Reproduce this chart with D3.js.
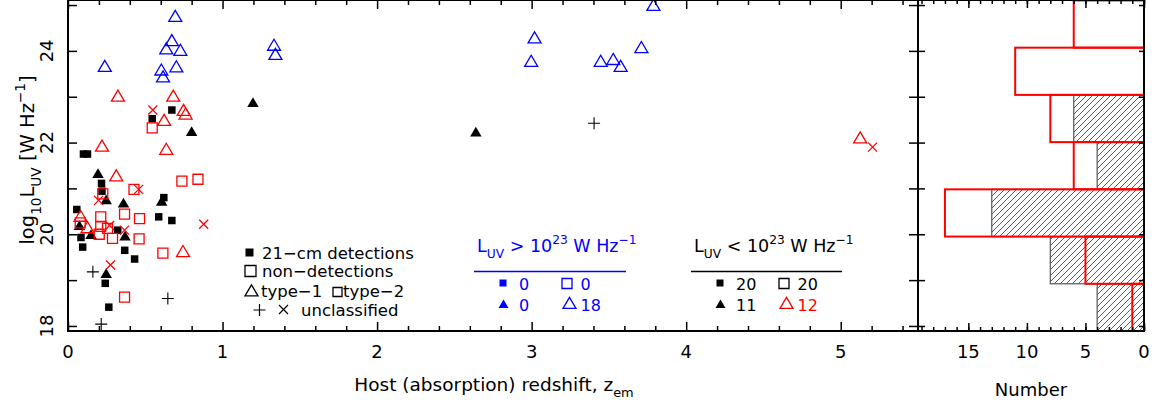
<!DOCTYPE html>
<html>
<head>
<meta charset="utf-8">
<script src="https://cdn.jsdelivr.net/npm/d3@7"></script>
<style>
  body { margin: 0; background: #fff; }
  text { font-family: "DejaVu Sans", sans-serif; }
</style>
</head>
<body>
<div id="chart-area"></div>
<script>
// ---- data: [z_em, log10 L_UV] ----
var detSquares = [[0.672,22.71],[0.545,22.52],[0.100,21.75],[0.126,21.75],[0.217,21.11],[0.220,20.94],
    [0.620,20.80],[0.057,20.54],[0.587,20.38],[0.672,20.30],[0.322,20.09],[0.084,19.93],[0.095,19.72],
    [0.367,19.65],[0.431,19.46],[0.241,18.93],[0.264,18.41]];
var detTriangles = [[1.197,22.86],[2.639,22.22],[0.800,22.23],[0.194,21.31],[0.247,20.74],[0.359,20.67],
    [0.606,20.71],[0.074,20.18],[0.149,19.98],[0.369,19.95],[0.247,19.13]];
var nonSquares = [[0.545,22.32],[0.737,21.16],[0.841,21.20],[0.427,20.98],[0.225,20.88],[0.366,20.44],
    [0.463,20.34],[0.212,20.38],[0.079,20.25],[0.212,20.17],[0.256,20.13],[0.202,20.00],[0.288,19.91],
    [0.460,19.90],[0.614,19.59],[0.366,18.63]];
var nonTriangles = [[0.323,23.00],[0.681,23.00],[0.748,22.69],[0.761,22.61],[0.622,22.47],[0.220,21.91],
    [0.636,21.84],[0.312,21.26],[0.081,20.38],[0.126,20.13],[0.744,19.61],[5.126,22.09]];
var brightTriangles = [[0.694,24.74],[0.672,24.21],[0.636,24.03],[0.727,24.00],[0.701,23.64],[0.604,23.57],
    [0.615,23.42],[0.238,23.65],[1.333,24.11],[1.342,23.91],[3.788,24.98],[3.019,24.27],[2.997,23.76],
    [3.447,23.76],[3.528,23.80],[3.576,23.65],[3.710,24.06]];
var unclCrosses = [[0.549,22.71],[0.198,20.74],[0.457,20.98],[0.269,20.19],[0.366,20.09],[0.878,20.22],
    [0.275,19.33],[5.206,21.90]];
var unclPlus = [[3.404,22.42],[0.161,19.18],[0.646,18.60],[0.215,18.04]];

// histogram (bins in log10 L_UV, counts)
var binEdges = [17.89, 18.92, 19.95, 20.98, 22.01, 23.04, 24.07, 25.10];
var histDetections = [4, 8, 13, 4, 6, 0, 0];
var histNonDetections = [1, 5, 17, 6, 8, 11, 6];

var zTickLabels = [0, 1, 2, 3, 4, 5];
var lTickLabels = [18, 20, 22, 24];
var nTickLabels = [15, 10, 5, 0];
var brightCounts = [0, 0, 0, 18];
var faintCounts = [20, 20, 11, 12];

// ---- setup ----
var W = 1157, H = 405;
var svg = d3.select("#chart-area").append("svg")
    .attr("width", W).attr("height", H);

var x = d3.scaleLinear().domain([0, 5.5]).range([68, 918]);
var y = d3.scaleLinear().domain([17.89, 25.11]).range([331, 0]);
var hx = d3.scaleLinear().domain([0, 19.3]).range([1144, 918]);

var RED = "#ff0000", BLUE = "#0000ff";

// marker paths centred on 0,0
function sqPath(s) { var h = s / 2; return "M" + (-h) + "," + (-h) + "h" + s + "v" + s + "h" + (-s) + "Z"; }
function triPath(s) { var h = s * 0.85; return "M0," + (-h * 0.6) + "L" + (s / 2) + "," + (h * 0.4) + "L" + (-s / 2) + "," + (h * 0.4) + "Z"; }
function plusPath(s) { var h = s / 2; return "M" + (-h) + ",0H" + h + "M0," + (-h) + "V" + h; }
function crossPath(s) { var h = s / 2; return "M" + (-h) + "," + (-h) + "L" + h + "," + h + "M" + (-h) + "," + h + "L" + h + "," + (-h); }

function marker(g, px, py, d, fill, stroke, sw) {
    return g.append("path").attr("d", d)
        .attr("transform", "translate(" + px + "," + py + ")")
        .attr("fill", fill).attr("stroke", stroke).attr("stroke-width", sw || 1.3);
}

// text with sub/superscripts
function rich(t, parts, fs) {
    var shift = 0;
    parts.forEach(function(p) {
        var target = p[1] === "sub" ? fs * 0.35 : (p[1] === "sup" ? -fs * 0.45 : 0);
        t.append("tspan").attr("dy", target - shift)
            .style("font-size", (p[1] ? fs * 0.7 : fs) + "px").text(p[0]);
        shift = target;
    });
    return t;
}

// ---- main panel ----
svg.append("clipPath").attr("id", "clipMain").append("rect")
    .attr("x", 68).attr("y", 0).attr("width", 850).attr("height", 331);
var pts = svg.append("g").attr("clip-path", "url(#clipMain)");

function series(data, d, fill, stroke, sw) {
    pts.append("g").selectAll("path").data(data).enter().append("path")
        .attr("d", d)
        .attr("transform", function(p) { return "translate(" + x(p[0]) + "," + y(p[1]) + ")"; })
        .attr("fill", fill).attr("stroke", stroke).attr("stroke-width", sw);
}
series(detSquares, sqPath(7.5), "#000", "none", 0);
series(detTriangles, triPath(11.5), "#000", "none", 0);
series(nonSquares, sqPath(10), "none", RED, 1.3);
series(nonTriangles, triPath(13), "none", RED, 1.3);
series(unclCrosses, crossPath(9), "none", RED, 1.3);
series(unclPlus, plusPath(12), "none", "#000", 1.1);
series(brightTriangles, triPath(13), "none", BLUE, 1.3);

// ticks (inward)
var zMinor = d3.range(0, 5.5001, 0.2).filter(function(v) { return Math.abs(v - Math.round(v)) > 1e-6; });
function tickAxis(axis, tr) {
    var a = svg.append("g").attr("transform", tr).call(axis);
    a.select(".domain").remove();
    a.selectAll("line").attr("stroke", "#000").attr("stroke-width", 1.5);
    a.selectAll("text").remove();
}
tickAxis(d3.axisBottom(x).tickValues(zTickLabels).tickSize(-9).tickSizeOuter(0), "translate(0,331)");
tickAxis(d3.axisBottom(x).tickValues(zMinor).tickSize(-5).tickSizeOuter(0), "translate(0,331)");
tickAxis(d3.axisTop(x).tickValues(zTickLabels).tickSize(-9).tickSizeOuter(0), "translate(0,0)");
tickAxis(d3.axisTop(x).tickValues(zMinor).tickSize(-5).tickSizeOuter(0), "translate(0,0)");
var lTicks = d3.range(18, 25.01, 1);
tickAxis(d3.axisLeft(y).tickValues(lTicks).tickSize(-9).tickSizeOuter(0), "translate(68,0)");
tickAxis(d3.axisRight(y).tickValues(lTicks).tickSize(-9).tickSizeOuter(0), "translate(918,0)");

// tick labels
svg.append("g").selectAll("text").data(zTickLabels).enter().append("text")
    .attr("x", function(d) { return x(d); }).attr("y", 358)
    .attr("text-anchor", "middle").style("font-size", "18px").text(function(d) { return d; });
svg.append("g").selectAll("text").data(lTickLabels).enter().append("text")
    .attr("transform", function(d) { return "translate(53," + y(d) + ") rotate(-90)"; })
    .attr("text-anchor", "middle").style("font-size", "18px").text(function(d) { return d; });

// axis titles
rich(svg.append("text").attr("x", 494).attr("y", 391).attr("text-anchor", "middle"),
    [["Host (absorption) redshift, z"], ["em", "sub"]], 18.5);
rich(svg.append("text").attr("transform", "translate(34,160) rotate(-90)").attr("text-anchor", "middle"),
    [["log"], ["10", "sub"], ["L"], ["UV", "sub"], [" [W Hz"], ["\u22121", "sup"], ["]"]], 19.5);

// ---- legend (left) ----
var lg = svg.append("g");
marker(lg, 249.5, 252.5, sqPath(8), "#000", "none", 0);
lg.append("text").attr("x", 262).attr("y", 258.5).style("font-size", "16.5px").text("21\u2212cm detections");
marker(lg, 250.5, 271, sqPath(11), "none", "#000", 1.3);
lg.append("text").attr("x", 262).attr("y", 277).style("font-size", "16.5px").text("non\u2212detections");
marker(lg, 251.5, 291.5, triPath(13), "none", "#000", 1.3);
lg.append("text").attr("x", 261).attr("y", 296.5).style("font-size", "16.5px").text("type\u22121");
marker(lg, 337.5, 292, sqPath(9), "none", "#000", 1.3);
lg.append("text").attr("x", 343).attr("y", 296.5).style("font-size", "16.5px").text("type\u22122");
marker(lg, 259.5, 310, plusPath(12), "none", "#000", 1.2);
marker(lg, 283.5, 309.5, crossPath(9), "none", "#000", 1.2);
lg.append("text").attr("x", 301).attr("y", 316).style("font-size", "16.5px").text("unclassified");

// ---- count boxes ----
function countBox(x0, x1, col, sign, vals, c) {
    var g = svg.append("g");
    rich(g.append("text").attr("x", x0 + 3).attr("y", 251.5).attr("fill", col),
        [["L"], ["UV", "sub"], [" " + sign + " 10"], ["23", "sup"], [" W Hz"], ["\u22121", "sup"]], 17.5);
    g.append("line").attr("x1", x0).attr("x2", x1).attr("y1", 271.5).attr("y2", 271.5)
        .attr("stroke", col).attr("stroke-width", 1.6);
    marker(g, x0 + 29, 283, sqPath(7), c[0], "none", 0);
    g.append("text").attr("x", x0 + 45).attr("y", 290).attr("fill", c[0]).style("font-size", "16px").text(vals[0]);
    marker(g, x0 + 93, 283.5, sqPath(10), "none", c[1], 1.3);
    g.append("text").attr("x", x0 + 106.5).attr("y", 290).attr("fill", c[1]).style("font-size", "16px").text(vals[1]);
    marker(g, x0 + 29.5, 304.5, triPath(10), c[2], "none", 0);
    g.append("text").attr("x", x0 + 45).attr("y", 310.5).attr("fill", c[2]).style("font-size", "16px").text(vals[2]);
    marker(g, x0 + 95.5, 304, triPath(13), "none", c[3], 1.3);
    g.append("text").attr("x", x0 + 106.5).attr("y", 310.5).attr("fill", c[3]).style("font-size", "16px").text(vals[3]);
}
countBox(474, 626, BLUE, ">", brightCounts, [BLUE, BLUE, BLUE, BLUE]);
countBox(691, 842, "#000", "<", faintCounts, ["#000", "#000", "#000", RED]);

// frame of main panel
svg.append("rect").attr("x", 68).attr("y", 0).attr("width", 850).attr("height", 331)
    .attr("fill", "none").attr("stroke", "#000").attr("stroke-width", 2);

// ---- histogram panel ----
var defs = svg.append("defs");
var pat = defs.append("pattern").attr("id", "hatch").attr("patternUnits", "userSpaceOnUse")
    .attr("width", 6).attr("height", 6);
pat.append("path").attr("d", "M-1,1 l2,-2 M0,6 l6,-6 M5,7 l2,-2")
    .attr("stroke", "#333").attr("stroke-width", 0.8);

var bins = histDetections.map(function(d, i) {
    return { lo: binEdges[i], hi: binEdges[i + 1], det: d, non: histNonDetections[i] };
});
svg.append("clipPath").attr("id", "clipHist").append("rect")
    .attr("x", 918).attr("y", 0).attr("width", 227).attr("height", 331);
var hg = svg.append("g").attr("clip-path", "url(#clipHist)");
hg.selectAll("rect.det").data(bins.filter(function(b) { return b.det > 0; })).enter().append("rect")
    .attr("class", "det")
    .attr("x", function(b) { return hx(b.det); })
    .attr("width", function(b) { return hx(0) - hx(b.det); })
    .attr("y", function(b) { return y(b.hi); })
    .attr("height", function(b) { return y(b.lo) - y(b.hi); })
    .attr("fill", "url(#hatch)").attr("stroke", "#555").attr("stroke-width", 1.2);
hg.selectAll("rect.non").data(bins).enter().append("rect")
    .attr("class", "non")
    .attr("x", function(b) { return hx(b.non); })
    .attr("width", function(b) { return hx(0) - hx(b.non); })
    .attr("y", function(b) { return y(b.hi); })
    .attr("height", function(b) { return y(b.lo) - y(b.hi); })
    .attr("fill", "none").attr("stroke", RED).attr("stroke-width", 2);

var nMinor = d3.range(0, 19.01, 1);
tickAxis(d3.axisBottom(hx).tickValues(nMinor).tickSize(-4).tickSizeOuter(0), "translate(0,331)");
tickAxis(d3.axisBottom(hx).tickValues(nTickLabels).tickSize(-8).tickSizeOuter(0), "translate(0,331)");
tickAxis(d3.axisTop(hx).tickValues(nMinor).tickSize(-4).tickSizeOuter(0), "translate(0,0)");
tickAxis(d3.axisTop(hx).tickValues(nTickLabels).tickSize(-8).tickSizeOuter(0), "translate(0,0)");
tickAxis(d3.axisLeft(y).tickValues(lTicks).tickSize(-7).tickSizeOuter(0), "translate(918,0)");
tickAxis(d3.axisRight(y).tickValues(lTicks).tickSize(-5).tickSizeOuter(0), "translate(1144,0)");

svg.append("rect").attr("x", 918).attr("y", 0).attr("width", 226).attr("height", 331)
    .attr("fill", "none").attr("stroke", "#000").attr("stroke-width", 2);

svg.append("g").selectAll("text").data(nTickLabels).enter().append("text")
    .attr("x", function(d) { return hx(d); }).attr("y", 358)
    .attr("text-anchor", "middle").style("font-size", "18px").text(function(d) { return d; });
svg.append("text").attr("x", 1031).attr("y", 396).attr("text-anchor", "middle")
    .style("font-size", "18px").text("Number");
</script>
</body>
</html>
